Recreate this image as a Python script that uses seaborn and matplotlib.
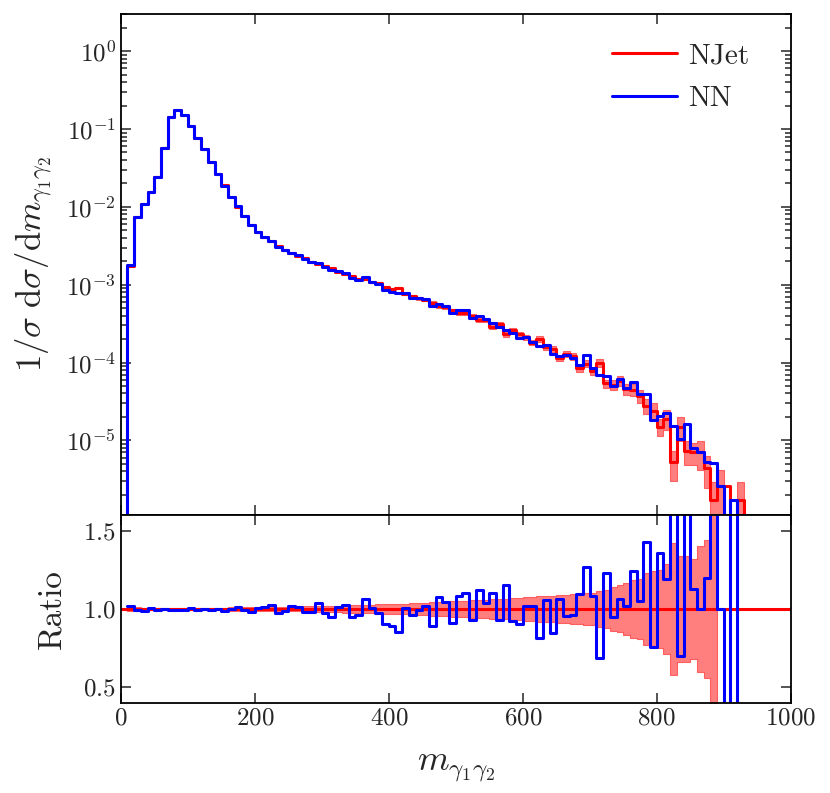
import numpy as np
import matplotlib
matplotlib.use('Agg')
import matplotlib.pyplot as plt
from matplotlib.lines import Line2D
import seaborn as sns

sns.set_style("ticks")
plt.rcParams['font.family'] = 'cmr10'
plt.rcParams['mathtext.fontset'] = 'cm'
plt.rcParams['axes.formatter.use_mathtext'] = True

# bins of 10 in m_{gamma1 gamma2}, from 10 to 930
edges = np.arange(10, 940, 10)

# NJet normalised distribution
njet = np.array([
    1.74e-3, 7.5e-3, 1.10e-2, 1.56e-2, 2.45e-2, 5.76e-2, 0.144, 0.174, 0.150, 0.109,
    0.0773, 0.0549, 0.0381, 0.0267, 0.0190, 0.0134, 0.0100, 7.67e-3, 5.87e-3, 4.69e-3,
    4.04e-3, 3.59e-3, 3.10e-3, 2.79e-3, 2.52e-3, 2.35e-3, 2.20e-3, 1.97e-3, 1.84e-3, 1.72e-3,
    1.62e-3, 1.47e-3, 1.37e-3, 1.30e-3, 1.20e-3, 1.18e-3, 1.09e-3, 1.04e-3, 9.4e-4, 8.9e-4,
    9.1e-4, 7.7e-4, 7.1e-4, 6.7e-4, 6.4e-4, 5.9e-4, 5.3e-4, 5.1e-4, 4.7e-4, 4.35e-4,
    4.3e-4, 4.0e-4, 3.5e-4, 3.5e-4, 2.9e-4, 3.1e-4, 2.3e-4, 2.6e-4, 2.3e-4, 2.1e-4,
    1.8e-4, 2.0e-4, 1.6e-4, 1.5e-4, 1.15e-4, 1.3e-4, 1.2e-4, 8.4e-5, 9.7e-5, 7.8e-5,
    1.0e-4, 5.4e-5, 5.2e-5, 5.8e-5, 4.6e-5, 4.5e-5, 3.7e-5, 2.8e-5, 2.4e-5, 1.5e-5,
    1.9e-5, 5.2e-6, 1.5e-5, 7.4e-6, 7.0e-6, 7.0e-6, 4.4e-6, 1.7e-6, 2.6e-6, 2.6e-6,
    0.0, 1.7e-6])

# relative MC error of NJet
njet_err = np.array([
    0.012, 0.010, 0.009, 0.008, 0.007, 0.006, 0.006, 0.006, 0.006, 0.006,
    0.007, 0.007, 0.008, 0.008, 0.009, 0.010, 0.010, 0.011, 0.012, 0.012,
    0.013, 0.014, 0.014, 0.015, 0.016, 0.016, 0.017, 0.018, 0.019, 0.020,
    0.021, 0.022, 0.023, 0.024, 0.025, 0.026, 0.027, 0.029, 0.030, 0.032,
    0.033, 0.034, 0.036, 0.038, 0.040, 0.042, 0.044, 0.046, 0.048, 0.051,
    0.053, 0.055, 0.058, 0.060, 0.062, 0.064, 0.066, 0.069, 0.072, 0.075,
    0.078, 0.080, 0.082, 0.085, 0.088, 0.092, 0.096, 0.098, 0.100, 0.105,
    0.115, 0.120, 0.140, 0.150, 0.165, 0.185, 0.190, 0.230, 0.240, 0.250,
    0.290, 0.420, 0.340, 0.340, 0.320, 0.400, 0.440, 0.700, 0.580, 0.600,
    0.0, 0.700])

# NN / NJet (10.0 = far above the panel)
ratio = np.array([
    1.021, 0.994, 0.987, 1.004, 0.992, 1.002, 0.996, 0.996, 0.996, 1.004,
    0.996, 1.000, 0.992, 1.002, 0.989, 0.998, 1.013, 0.994, 0.983, 1.008,
    1.015, 1.028, 0.977, 0.989, 1.017, 1.013, 0.981, 0.983, 1.038, 0.972,
    0.951, 1.015, 1.025, 0.951, 0.960, 1.064, 1.004, 0.977, 0.902, 0.892,
    0.851, 1.004, 0.962, 0.994, 1.021, 0.892, 1.079, 1.042, 0.909, 1.085,
    1.100, 0.930, 1.121, 1.040, 1.100, 0.930, 1.153, 0.924, 0.904, 1.019,
    1.019, 0.817, 1.057, 0.849, 1.062, 0.955, 0.960, 1.093, 1.270, 1.083,
    0.686, 1.227, 0.951, 1.062, 1.019, 1.242, 1.051, 1.425, 0.760, 1.355,
    1.189, 2.9, 0.703, 2.2, 1.125, 1.000, 1.200, 3.0, 1.000, 0.0,
    10.0, 0.0])

nn_where_njet_empty = 1.7e-6

nn = njet * ratio
nn[njet == 0] = nn_where_njet_empty


def step_vals(v):
    return np.append(v, v[-1])


# closed histograms: empty bins left of 10 and right of 930
x_full = np.concatenate([[0], edges, [1000]])


def closed(v):
    return np.concatenate([[0.0], v, [0.0, 0.0]])


fig = plt.figure(figsize=(8.3, 7.93), dpi=100)
ax = fig.add_axes([0.1455, 0.3506, 0.8072, 0.6317])
axr = fig.add_axes([0.1455, 0.1135, 0.8072, 0.2371])

# top panel
ok = njet > 0
lo = np.where(ok, njet * (1 - njet_err), np.nan)
hi = np.where(ok, njet * (1 + njet_err), np.nan)
ax.fill_between(edges, step_vals(lo), step_vals(hi), step='post',
                color='red', alpha=0.5, lw=0.8)
sns.lineplot(x=x_full, y=closed(njet), drawstyle='steps-post', estimator=None,
             sort=False, color='red', lw=2.2, ax=ax)
sns.lineplot(x=x_full, y=closed(nn), drawstyle='steps-post', estimator=None,
             sort=False, color='blue', lw=2.2, ax=ax)
ax.set_yscale('log', nonpositive='clip')
ax.set_ylim(1.1e-6, 3.0)
ax.set_xlim(0, 1000)
ax.set_xticks([0, 200, 400, 600, 800, 1000])
ax.set_ylabel(r'$1/\sigma\ \mathrm{d}\sigma/\mathrm{d}m_{\gamma_1\gamma_2}$', fontsize=25, labelpad=8)
ax.set_xlabel('')
ax.tick_params(labelbottom=False)

handles = [Line2D([], [], color='red', lw=2.2), Line2D([], [], color='blue', lw=2.2)]
ax.legend(handles, ['NJet', 'NN'], loc='upper right', bbox_to_anchor=(0.982, 1.0),
          frameon=False, fontsize=21, handlelength=2.2, labelspacing=0.55,
          borderaxespad=0.6, handletextpad=0.4)

# ratio panel
band_ok = (njet > 0) & (nn > 0)
r_err = np.where(band_ok, njet_err, np.nan)
axr.fill_between(edges, step_vals(1 - r_err), step_vals(1 + r_err), step='post',
                 color='red', alpha=0.5, lw=0.8)
axr.axhline(1.0, color='red', lw=2.2)
sns.lineplot(x=edges, y=step_vals(ratio), drawstyle='steps-post', estimator=None,
             sort=False, color='blue', lw=2.2, ax=axr)
axr.set_ylim(0.4, 1.6)
axr.set_xlim(0, 1000)
axr.set_yticks([0.5, 1.0, 1.5])
axr.set_xticks([0, 200, 400, 600, 800, 1000])
axr.set_ylabel('Ratio', fontsize=24, labelpad=12)
axr.set_xlabel(r'$m_{\gamma_1\gamma_2}$', fontsize=26, labelpad=16)

for a in (ax, axr):
    for s in a.spines.values():
        s.set_linewidth(1.3)
        s.set_color('black')
    a.tick_params(which='both', direction='in', top=True, right=True,
                  labelsize=18, width=1.1)
    a.tick_params(which='major', length=7)
    a.tick_params(which='minor', length=4)
axr.minorticks_off()

fig.savefig('out.png', dpi=100)
